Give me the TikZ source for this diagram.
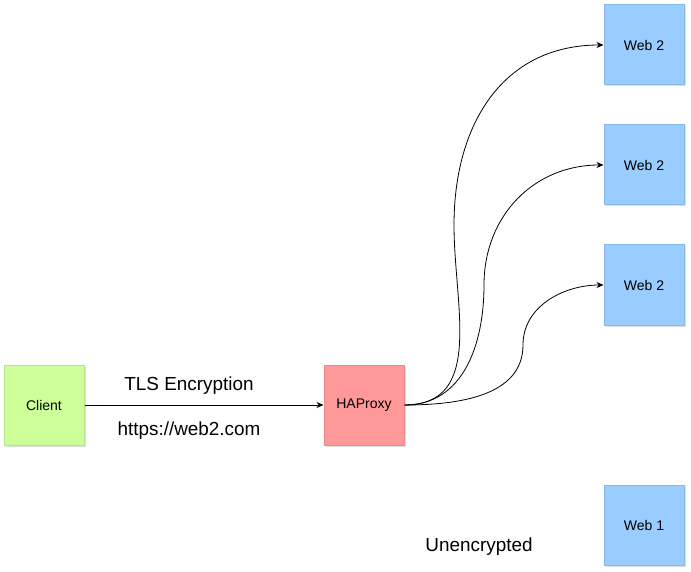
\documentclass[tikz,border=0pt]{standalone}
\usepackage{fontspec}
\setmainfont{Liberation Sans}
\usetikzlibrary{arrows.meta,shadows}
\definecolor{cfill}{HTML}{CCFF99}
\definecolor{cdraw}{HTML}{B3E68A}
\definecolor{hfill}{HTML}{FF9999}
\definecolor{hdraw}{HTML}{E68A8A}
\definecolor{wfill}{HTML}{99CCFF}
\definecolor{wdraw}{HTML}{8AB8E6}
\tikzset{
  box/.style={rectangle, minimum width=80pt, minimum height=80pt, inner sep=0pt,
    line width=1pt, font=\fontsize{14}{16}\selectfont,
    drop shadow={shadow xshift=1.5pt, shadow yshift=-1.5pt, opacity=0.25}},
  bigtext/.style={font=\fontsize{18.9}{22}\selectfont, inner sep=0pt},
  conn/.style={line width=0.8pt, -{Stealth[length=7pt,width=6pt]}}
}
\begin{document}
\begin{tikzpicture}[x=1pt,y=-1pt]
\useasboundingbox (0,0) rectangle (691,572);
\node[box, fill=cfill, draw=cdraw] (client) at (44,405) {Client};
\node[box, fill=hfill, draw=hdraw] (haproxy) at (364,405) {HAProxy};
\node[box, fill=wfill, draw=wdraw] (w1) at (644,45) {Web 2};
\node[box, fill=wfill, draw=wdraw] (w2) at (644,165) {Web 2};
\node[box, fill=wfill, draw=wdraw] (w3) at (644,285) {Web 2};
\node[box, fill=wfill, draw=wdraw] (w4) at (644,525) {Web 1};
\node[bigtext] (tls) at (189,386) {TLS Encryption};
\node[bigtext] (url) at (189,431) {https://web2.com};
\node[bigtext] (unenc) at (479,547) {Unencrypted};
\coordinate (m1) at (454,225);
\coordinate (m2) at (484,285);
\coordinate (m3) at (523,345);
\draw[conn] (client) -- (haproxy);
\draw[conn] (haproxy.east) to[out=0,in=-90,looseness=1.1] (m1) to[out=90,in=180,looseness=1.1] (w1.west);
\draw[conn] (haproxy.east) to[out=0,in=-90,looseness=1.05] (m2) to[out=90,in=180,looseness=1.05] (w2.west);
\draw[conn] (haproxy.east) to[out=0,in=-90,looseness=1] (m3) to[out=90,in=180,looseness=1] (w3.west);
\end{tikzpicture}
\end{document}
